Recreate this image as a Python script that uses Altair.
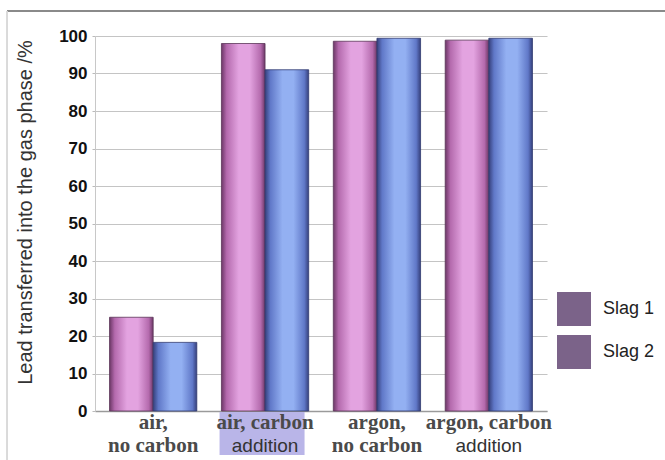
import altair as alt
import pandas as pd

# Experimental conditions and their two-line axis captions
conditions = ["air, no carbon", "air, carbon addition", "argon, no carbon", "argon, carbon addition"]
caption_top = ["air,", "air, carbon", "argon,", "argon, carbon"]
caption_bottom = ["no carbon", "addition", "no carbon", "addition"]

# Share of lead transferred into the gas phase (%)
series = ["Slag 1", "Slag 2"]
slag1 = [25.0, 98.0, 98.6, 98.9]
slag2 = [18.3, 91.0, 99.4, 99.4]

W, H = 452, 375

bars = pd.DataFrame(
    [{"condition": c, "series": "Slag 1", "value": v} for c, v in zip(conditions, slag1)]
    + [{"condition": c, "series": "Slag 2", "value": v} for c, v in zip(conditions, slag2)]
)
captions = pd.DataFrame(
    {"condition": conditions, "top": caption_top, "bottom": caption_bottom}
)

x_enc = alt.X(
    "condition:N",
    sort=conditions,
    scale=alt.Scale(paddingInner=0.22, paddingOuter=0.13),
    axis=alt.Axis(labels=False, ticks=False, title=None, domainColor="#9a9a9a",
                  domainWidth=1.5, grid=False),
)
y_enc = alt.Y(
    "value:Q",
    scale=alt.Scale(domain=[0, 100], nice=False),
    axis=alt.Axis(
        values=list(range(0, 101, 10)),
        title="Lead transferred into the gas phase /%",
        titleFont="Liberation Sans", titleFontSize=20, titleFontWeight="normal",
        titleColor="#333333", titleAngle=270, titleX=-70, titleY=176,
        titleAlign="center", titleBaseline="middle",
        labelFont="Liberation Sans", labelFontSize=17, labelFontWeight="bold",
        labelColor="#111111", labelPadding=5,
        tickSize=3, tickColor="#bbbbbb",
        domainColor="#c8c8c8", gridColor="#c4c4c4", gridWidth=1.2,
    ),
)
xoff = alt.XOffset("series:N", scale=alt.Scale(domain=series, paddingInner=0, paddingOuter=0))


def cylinder(edge, mid, light):
    # horizontal shading that makes a flat bar look like a cylinder
    return alt.Gradient(
        gradient="linear", x1=0, y1=0, x2=1, y2=0,
        stops=[
            alt.GradientStop(offset=0, color=edge),
            alt.GradientStop(offset=0.12, color=mid),
            alt.GradientStop(offset=0.4, color=light),
            alt.GradientStop(offset=0.65, color=light),
            alt.GradientStop(offset=0.9, color=mid),
            alt.GradientStop(offset=1, color=edge),
        ],
    )


pink = cylinder("#6c3766", "#b46aad", "#e3a3e0")
blue = cylinder("#36407c", "#6078c8", "#93b0f2")

base = alt.Chart(bars)

slag1_bars = base.transform_filter("datum.series == 'Slag 1'").mark_bar(
    color=pink, stroke="#5a3558", strokeWidth=0.8
).encode(x=x_enc, y=y_enc, xOffset=xoff)

slag2_bars = base.transform_filter("datum.series == 'Slag 2'").mark_bar(
    color=blue, stroke="#303a70", strokeWidth=0.8
).encode(x=x_enc, y=y_enc, xOffset=xoff)

# Invisible marks that carry the legend
legend_layer = base.mark_square(opacity=0).encode(
    x=x_enc, y=y_enc, xOffset=xoff,
    fill=alt.Fill(
        "series:N",
        scale=alt.Scale(domain=series, range=["#7b6389", "#7b6389"]),
        legend=alt.Legend(
            title=None, orient="none", legendX=462, legendY=256,
            symbolType="square", symbolSize=1156, symbolOpacity=1,
            symbolStrokeWidth=0, rowPadding=9, labelOffset=12,
            labelFont="Liberation Sans", labelFontSize=18, labelColor="#222222",
            padding=0,
        ),
    ),
)

cap = alt.Chart(captions)

highlight = cap.transform_filter("datum.condition == 'air, carbon addition'").mark_bar(
    width=85, color="#b9b5e8", xOffset=-3
).encode(x=alt.X("condition:N", sort=conditions), y=alt.value(H + 1), y2=alt.value(H + 44))

top_line = cap.mark_text(
    font="Liberation Serif", fontSize=21, fontWeight="bold", color="#4a4a4a",
    baseline="alphabetic",
).encode(x=alt.X("condition:N", sort=conditions), y=alt.value(H + 18), text="top:N")

bottom_serif = cap.transform_filter("datum.bottom == 'no carbon'").mark_text(
    font="Liberation Serif", fontSize=21, fontWeight="bold", color="#4a4a4a",
    baseline="alphabetic",
).encode(x=alt.X("condition:N", sort=conditions), y=alt.value(H + 41), text="bottom:N")

bottom_sans = cap.transform_filter("datum.bottom == 'addition'").mark_text(
    font="Liberation Sans", fontSize=19, color="#333333", baseline="alphabetic",
).encode(x=alt.X("condition:N", sort=conditions), y=alt.value(H + 41), text="bottom:N")

# Page frame lines along the top and left edges
frame_top = cap.mark_rule(color="#8a8a8a", strokeWidth=1.5).encode(
    x=alt.value(-88), x2=alt.value(W + 118), y=alt.value(-25)
)
frame_left = cap.mark_rule(color="#d8d8d8", strokeWidth=1).encode(
    x=alt.value(-88), y=alt.value(-25), y2=alt.value(H + 49)
)

chart = alt.layer(
    highlight, slag1_bars, slag2_bars, legend_layer,
    top_line, bottom_serif, bottom_sans, frame_top, frame_left,
).properties(
    width=W, height=H,
    autosize=alt.AutoSizeParams(type="none"),
    padding={"left": 95, "top": 36, "right": 118, "bottom": 49},
    background="white",
).configure_view(stroke=None)

chart.save("out.html", embed_options={"renderer": "svg", "actions": False})
